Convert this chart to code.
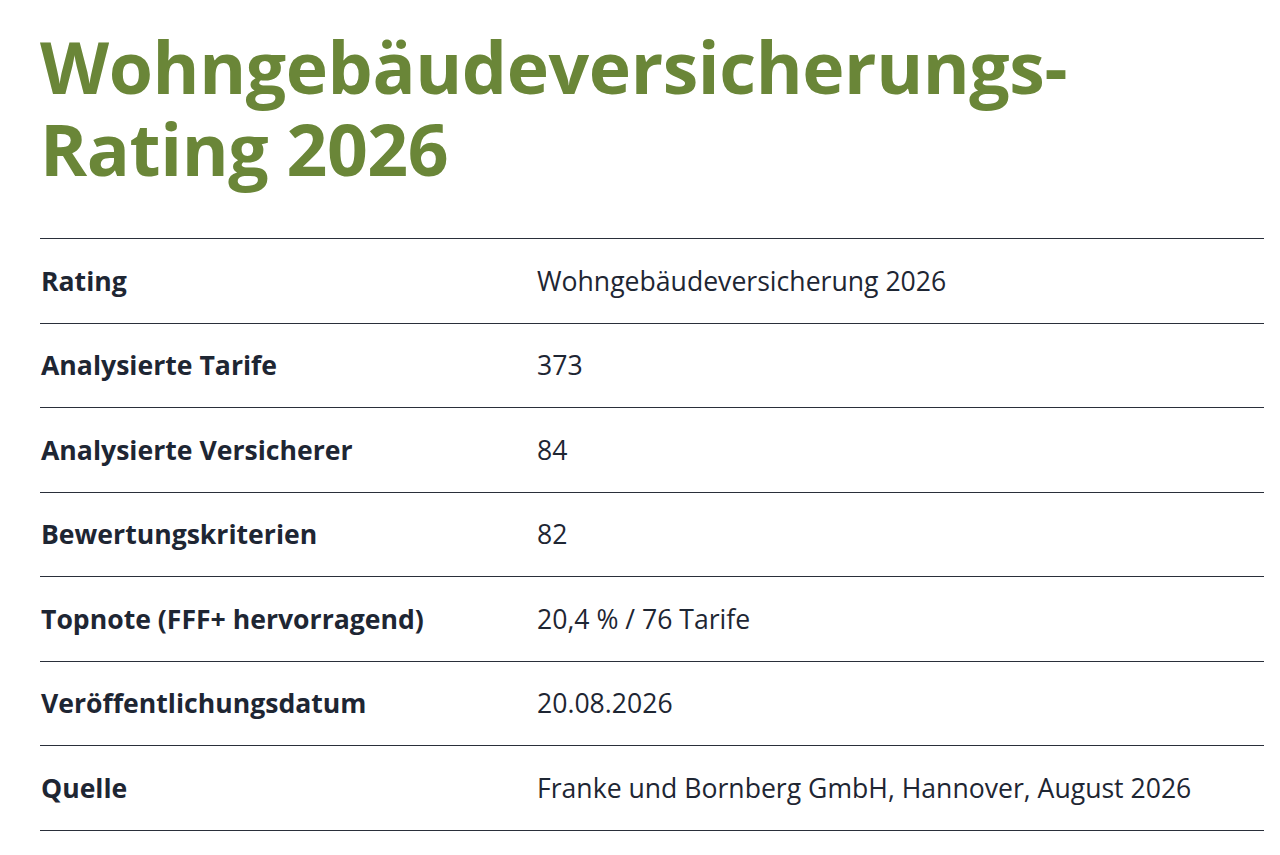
<!DOCTYPE html>
<html><head><meta charset="utf-8">
<script src="https://cdn.jsdelivr.net/npm/chart.js@4/dist/chart.umd.min.js"></script>
<style>
html,body{margin:0;padding:0;background:#fff;width:1280px;height:855px;overflow:hidden;font-family:"Open Sans",sans-serif;}
h1{position:absolute;left:40px;top:26px;margin:0;font-size:71.5px;line-height:82px;font-weight:700;color:#6a8638;letter-spacing:-0.4px;}
table{position:absolute;left:40px;top:238px;width:1224px;border-collapse:collapse;border-top:1.5px solid #2a2f3a;}
td{height:83.5px;border-bottom:1.5px solid #2a2f3a;font-size:26.6px;color:#1e2633;padding:0;vertical-align:middle;}
td.l{font-weight:700;width:496px;padding-left:1px;}
</style></head>
<body>
<h1>Wohngebäudeversicherungs-<br>Rating 2026</h1>
<table id="t"></table>
<script>
const titleLines = ["Wohngebäudeversicherungs-", "Rating 2026"];
const labels = ["Rating","Analysierte Tarife","Analysierte Versicherer","Bewertungskriterien","Topnote (FFF+ hervorragend)","Veröffentlichungsdatum","Quelle"];
const values = ["Wohngebäudeversicherung 2026","373","84","82","20,4 % / 76 Tarife","20.08.2026","Franke und Bornberg GmbH, Hannover, August 2026"];
const t = document.getElementById('t');
labels.forEach((l,i)=>{
  const tr=document.createElement('tr');
  const a=document.createElement('td');a.className='l';a.textContent=l;
  const b=document.createElement('td');b.textContent=values[i];
  tr.appendChild(a);tr.appendChild(b);t.appendChild(tr);
});
</script>
</body></html>
